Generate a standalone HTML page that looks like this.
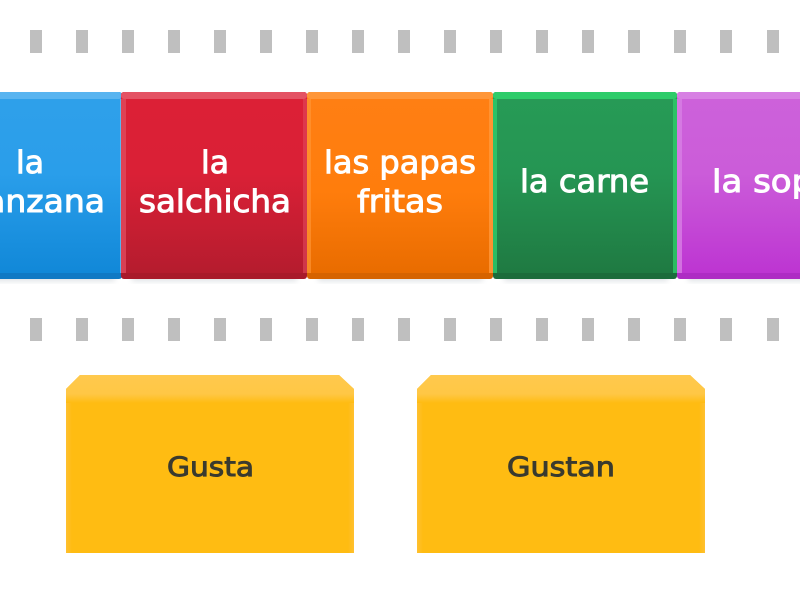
<!DOCTYPE html>
<html>
<head>
<meta charset="utf-8">
<style>
html,body{margin:0;padding:0;background:#fff;width:800px;height:600px;overflow:hidden}
svg{display:block}
text{font-family:"DejaVu Sans","Liberation Sans",sans-serif;font-weight:400;text-anchor:start}
.w{fill:#fff;font-size:31px;stroke:#fff;stroke-width:.95px}
.d{fill:#3a3a2e;font-size:27px;stroke:#3a3a2e;stroke-width:.95px}
</style>
</head>
<body>
<svg width="800" height="600" viewBox="0 0 800 600" xmlns="http://www.w3.org/2000/svg">
<defs>
<linearGradient id="bl" x1="0" y1="0" x2="0" y2="1"><stop offset="0" stop-color="#2fa0ea"/><stop offset=".45" stop-color="#2a9eea"/><stop offset="1" stop-color="#1188d8"/></linearGradient>
<linearGradient id="re" x1="0" y1="0" x2="0" y2="1"><stop offset="0" stop-color="#dc2036"/><stop offset=".45" stop-color="#da2036"/><stop offset="1" stop-color="#b51c2e"/></linearGradient>
<linearGradient id="or" x1="0" y1="0" x2="0" y2="1"><stop offset="0" stop-color="#ff7f14"/><stop offset=".55" stop-color="#ff7d0c"/><stop offset="1" stop-color="#e96c00"/></linearGradient>
<linearGradient id="gr" x1="0" y1="0" x2="0" y2="1"><stop offset="0" stop-color="#279b56"/><stop offset=".45" stop-color="#259553"/><stop offset="1" stop-color="#1f7a42"/></linearGradient>
<linearGradient id="pu" x1="0" y1="0" x2="0" y2="1"><stop offset="0" stop-color="#cd62da"/><stop offset=".45" stop-color="#cb5cd9"/><stop offset="1" stop-color="#bd35d2"/></linearGradient>
<linearGradient id="yt" x1="0" y1="0" x2="0" y2="1"><stop offset="0" stop-color="#ffc94d"/><stop offset=".68" stop-color="#ffc745"/><stop offset="1" stop-color="#ffbc12"/></linearGradient>
<linearGradient id="yl" x1="0" y1="0" x2="1" y2="0"><stop offset="0" stop-color="#ffc030"/><stop offset="1" stop-color="#ffbc12"/></linearGradient>
<linearGradient id="yr" x1="1" y1="0" x2="0" y2="0"><stop offset="0" stop-color="#ffc030"/><stop offset="1" stop-color="#ffbc12"/></linearGradient>
<filter id="sh" x="-10%" y="-10%" width="120%" height="125%"><feGaussianBlur stdDeviation="3"/></filter>
</defs>

<g fill="#bfbfbf">
<rect x="30" y="30" width="12" height="23"/><rect x="76" y="30" width="12" height="23"/><rect x="122" y="30" width="12" height="23"/><rect x="168" y="30" width="12" height="23"/><rect x="214" y="30" width="12" height="23"/><rect x="260" y="30" width="12" height="23"/><rect x="306" y="30" width="12" height="23"/><rect x="352" y="30" width="12" height="23"/><rect x="398" y="30" width="12" height="23"/><rect x="444" y="30" width="12" height="23"/><rect x="490" y="30" width="12" height="23"/><rect x="536" y="30" width="12" height="23"/><rect x="582" y="30" width="12" height="23"/><rect x="628" y="30" width="12" height="23"/><rect x="674" y="30" width="12" height="23"/><rect x="720" y="30" width="12" height="23"/><rect x="767" y="30" width="12" height="23"/>
<rect x="30" y="318" width="12" height="23"/><rect x="76" y="318" width="12" height="23"/><rect x="122" y="318" width="12" height="23"/><rect x="168" y="318" width="12" height="23"/><rect x="214" y="318" width="12" height="23"/><rect x="260" y="318" width="12" height="23"/><rect x="306" y="318" width="12" height="23"/><rect x="352" y="318" width="12" height="23"/><rect x="398" y="318" width="12" height="23"/><rect x="444" y="318" width="12" height="23"/><rect x="490" y="318" width="12" height="23"/><rect x="536" y="318" width="12" height="23"/><rect x="582" y="318" width="12" height="23"/><rect x="628" y="318" width="12" height="23"/><rect x="674" y="318" width="12" height="23"/><rect x="720" y="318" width="12" height="23"/><rect x="767" y="318" width="12" height="23"/>
</g>

<g fill="#5a6a7a" opacity=".2" filter="url(#sh)">
<rect x="-20" y="264" width="135" height="17"/><rect x="132" y="264" width="165" height="17"/><rect x="318" y="264" width="165" height="17"/><rect x="504" y="264" width="164" height="17"/><rect x="688" y="264" width="130" height="17"/>
</g>

<!-- blue -->
<rect x="-70" y="92" width="192" height="187" rx="3" fill="#1079c4"/>
<rect x="-70" y="92" width="192" height="181" rx="3" fill="url(#bl)"/>
<rect x="-70" y="92" width="192" height="7" rx="3" fill="#58b4f0"/>
<rect x="120" y="99" width="2" height="174" fill="#6cbcf0" opacity=".75"/>
<!-- red -->
<rect x="121" y="92" width="186" height="187" rx="3" fill="#a91a2a"/>
<rect x="121" y="92" width="186" height="181" rx="3" fill="url(#re)"/>
<rect x="121" y="92" width="186" height="7" rx="3" fill="#e45263"/>
<rect x="121" y="99" width="5" height="174" fill="#e04a5c" opacity=".8"/>
<rect x="303" y="99" width="4" height="174" fill="#e04a5c" opacity=".6"/>
<!-- orange -->
<rect x="307" y="92" width="186" height="187" rx="3" fill="#d66300"/>
<rect x="307" y="92" width="186" height="181" rx="3" fill="url(#or)"/>
<rect x="307" y="92" width="186" height="7" rx="3" fill="#ff9638"/>
<rect x="307" y="99" width="4" height="174" fill="#ff9638" opacity=".65"/>
<rect x="489" y="99" width="4" height="174" fill="#ff9638" opacity=".85"/>
<!-- green -->
<rect x="493" y="92" width="184" height="187" rx="3" fill="#1c6c3b"/>
<rect x="493" y="92" width="184" height="181" rx="3" fill="url(#gr)"/>
<rect x="493" y="92" width="184" height="7" rx="3" fill="#2ecc6a"/>
<rect x="493" y="99" width="4" height="174" fill="#2ecc6a" opacity=".8"/>
<rect x="673" y="99" width="4" height="174" fill="#2ecc6a" opacity=".8"/>
<!-- purple -->
<rect x="677" y="92" width="160" height="187" rx="3" fill="#ae2cc4"/>
<rect x="677" y="92" width="160" height="181" rx="3" fill="url(#pu)"/>
<rect x="677" y="92" width="160" height="7" rx="3" fill="#d780e3"/>
<rect x="677" y="99" width="5" height="174" fill="#d780e3" opacity=".8"/>

<text class="w" x="16" y="173" textLength="28" lengthAdjust="spacingAndGlyphs">la</text>
<text class="w" x="-47" y="212" textLength="152" lengthAdjust="spacingAndGlyphs">manzana</text>
<text class="w" x="201" y="173" textLength="28" lengthAdjust="spacingAndGlyphs">la</text>
<text class="w" x="139" y="212" textLength="152" lengthAdjust="spacingAndGlyphs">salchicha</text>
<text class="w" x="324" y="173" textLength="152" lengthAdjust="spacingAndGlyphs">las papas</text>
<text class="w" x="357" y="212" textLength="86" lengthAdjust="spacingAndGlyphs">fritas</text>
<text class="w" x="520" y="192" textLength="129" lengthAdjust="spacingAndGlyphs">la carne</text>
<text class="w" x="712" y="192" textLength="122" lengthAdjust="spacingAndGlyphs">la sopa</text>

<!-- yellow boxes -->
<polygon points="80,375 339,375 354,389 354,553 66,553 66,389" fill="#ffbc12"/>
<polygon points="80,375 339,375 354,389 354,403 66,403 66,389" fill="url(#yt)"/>
<rect x="66" y="403" width="6" height="150" fill="url(#yl)"/>
<rect x="348" y="403" width="6" height="150" fill="url(#yr)"/>
<polygon points="431,375 690,375 705,389 705,553 417,553 417,389" fill="#ffbc12"/>
<polygon points="431,375 690,375 705,389 705,403 417,403 417,389" fill="url(#yt)"/>
<rect x="417" y="403" width="6" height="150" fill="url(#yl)"/>
<rect x="699" y="403" width="6" height="150" fill="url(#yr)"/>

<text class="d" x="167" y="476" textLength="87" lengthAdjust="spacingAndGlyphs">Gusta</text>
<text class="d" x="507" y="476" textLength="108" lengthAdjust="spacingAndGlyphs">Gustan</text>
</svg>
</body>
</html>
